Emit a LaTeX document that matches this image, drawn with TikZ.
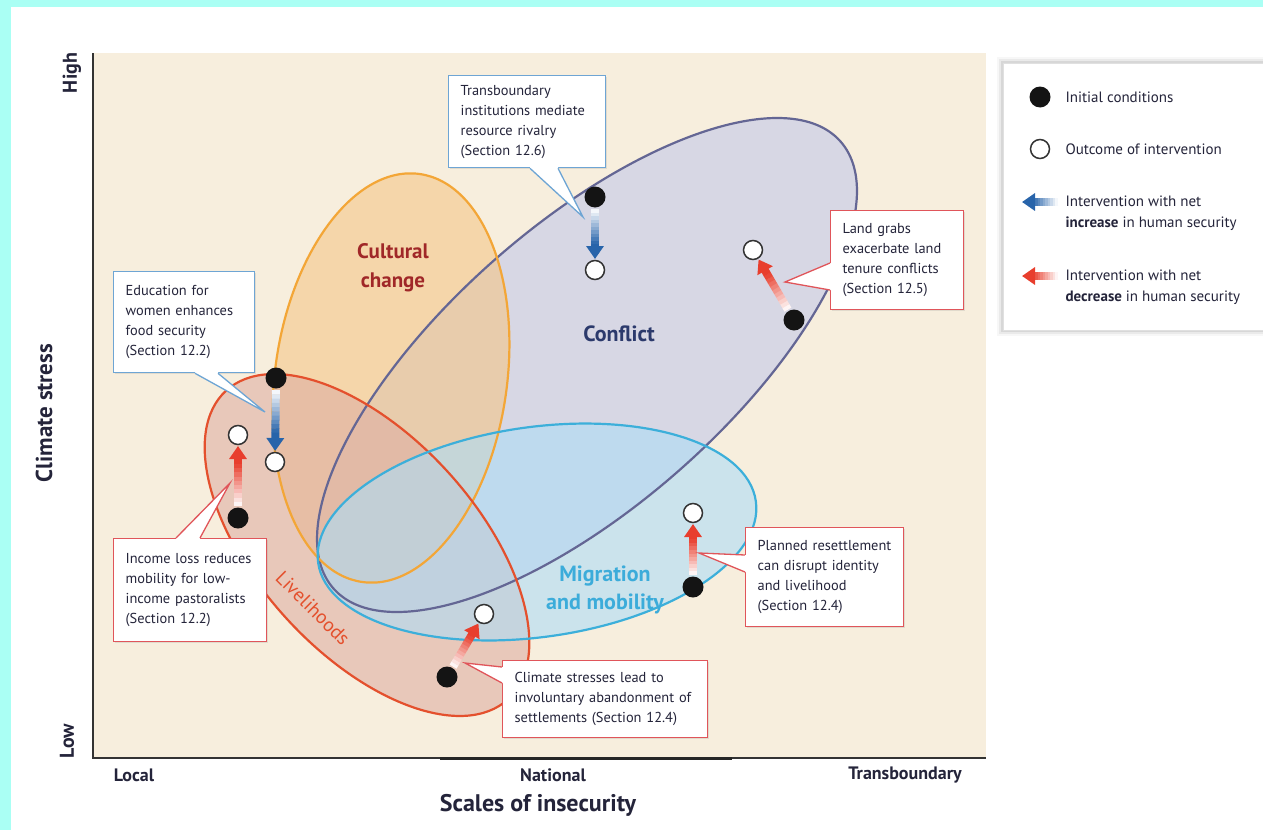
\documentclass[tikz,border=0pt]{standalone}
\usepackage{fontspec}
\setmainfont{PT Sans}
\usetikzlibrary{calc,arrows.meta,shadows}
\definecolor{framecyan}{HTML}{AAFFF4}
\definecolor{beige}{HTML}{F7EEDD}
\definecolor{textdark}{HTML}{24243A}
\definecolor{confill}{RGB}{195,201,233}
\definecolor{conline}{RGB}{100,102,148}
\definecolor{culfill}{RGB}{244,198,136}
\definecolor{culline}{RGB}{243,166,55}
\definecolor{livfill}{RGB}{222,175,163}
\definecolor{livline}{RGB}{228,80,45}
\definecolor{migfill}{RGB}{174,221,246}
\definecolor{migline}{RGB}{60,175,218}
\definecolor{culttext}{RGB}{160,40,40}
\definecolor{conftext}{RGB}{44,58,108}
\definecolor{migtext}{RGB}{60,172,218}
\definecolor{arrblue}{RGB}{40,100,170}
\definecolor{arrred}{RGB}{232,62,45}
\definecolor{calblue}{RGB}{110,165,212}
\definecolor{calred}{RGB}{224,85,90}
\newcommand{\nohyph}{\hyphenpenalty=10000\relax\exhyphenpenalty=10000\relax}
\newcommand{\gradarrow}[3]{%
  \coordinate (gaT) at ($(#1)!12pt!(#2)$);
  \coordinate (gaH) at ($(#2)!11pt!(#1)$);
  \foreach \i in {0,...,9}{%
    \pgfmathsetmacro\ta{\i*0.07}%
    \pgfmathsetmacro\tb{\ta+0.075}%
    \pgfmathtruncatemacro\pc{5+\i*10}%
    \draw[line width=8pt, #3!\pc!white] ($(gaT)!\ta!(gaH)$) -- ($(gaT)!\tb!(gaH)$);
  }
  \draw[line width=8pt, #3, -{Triangle[width=17pt,length=13pt]}] ($(gaT)!0.7!(gaH)$) -- (gaH);
}
\newcommand{\callptr}[5]{%
  \fill[white] ($#2+#5$) -- #2 -- #3 -- #4 -- ($#4+#5$) -- cycle;
  \draw[#1, line width=1.3pt, line join=miter] #2 -- #3 -- #4;
}
\tikzset{
  blackdot/.style={circle, fill=black!92, minimum size=21pt, inner sep=0pt},
  whitedot/.style={circle, fill=white, draw=black!80, line width=1.5pt, minimum size=19pt, inner sep=0pt},
  callbase/.style={rectangle, fill=white, line width=1.3pt, align=left, inner xsep=12pt, inner ysep=0pt,
    anchor=north west, text=textdark, font=\fontsize{14.4}{20}\selectfont\nohyph,
    drop shadow={opacity=0.18, shadow xshift=1.5pt, shadow yshift=-1.5pt}},
  callblue/.style={callbase, draw=calblue},
  callred/.style={callbase, draw=calred},
  axislab/.style={font=\bfseries\fontsize{18}{20}\selectfont, text=textdark},
  legtext/.style={anchor=west, align=left, text=textdark, font=\fontsize{15}{21}\selectfont},
  bigfill/.style={fill opacity=0.6},
  bigline/.style={line width=2.2pt}
}
\begin{document}
\begin{tikzpicture}[x=1pt,y=-1pt]
\useasboundingbox (0,0) rectangle (1263,830);
\fill[framecyan] (0,0) rectangle (1263,830);
\fill[white] (11,7) rectangle (1263,830);
\fill[beige] (93,53) rectangle (986,758);

% ellipse fills
\fill[confill, bigfill, rotate around={41.4:(587,365)}] (587,365) ellipse [x radius=338, y radius=140];
\fill[culfill, bigfill, rotate around={-8:(391,378)}] (391,378) ellipse [x radius=116, y radius=206];
\fill[livfill, bigfill, rotate around={-47.6:(367,545)}] (367,545) ellipse [x radius=209, y radius=109];
\fill[migfill, bigfill, rotate around={8:(537,532)}] (537,532) ellipse [x radius=221, y radius=105];
% ellipse outlines
\draw[conline, bigline, rotate around={41.4:(587,365)}] (587,365) ellipse [x radius=338, y radius=140];
\draw[culline, bigline, rotate around={-8:(391,378)}] (391,378) ellipse [x radius=116, y radius=206];
\draw[livline, bigline, rotate around={-47.6:(367,545)}] (367,545) ellipse [x radius=209, y radius=109];
\draw[migline, bigline, rotate around={8:(537,532)}] (537,532) ellipse [x radius=221, y radius=105];

% axes
\draw[line width=2pt, black!80] (93,53) -- (93,758) -- (986,758);
\draw[line width=3pt, black!85] (440,758) -- (732,758);

% region labels
\node[text=culttext, align=center, font=\bfseries\fontsize{21}{29}\selectfont] (lcult) at (393,268) {Cultural\\change};
\node[text=conftext, font=\bfseries\fontsize{22}{24}\selectfont] (lconf) at (619,334) {Conflict};
\node[text=migtext, align=center, font=\bfseries\fontsize{22}{28}\selectfont] (lmig) at (605,590) {Migration\\and mobility};
\node[text=livline, rotate=-45, font=\fontsize{19.5}{20}\selectfont] (lliv) at (313,608) {Livelihoods};

% dots
\node[blackdot] (d1) at (595,197) {};
\node[whitedot] (o1) at (595,270) {};
\node[blackdot] (d2) at (794,320) {};
\node[whitedot] (o2) at (753,250) {};
\node[blackdot] (d3) at (276,378) {};
\node[whitedot] (o3) at (275,462) {};
\node[blackdot] (d4) at (238,518) {};
\node[whitedot] (o4) at (238,435) {};
\node[blackdot] (d5) at (693,587) {};
\node[whitedot] (o5) at (693,513) {};
\node[blackdot] (d6) at (447,677) {};
\node[whitedot] (o6) at (484,614) {};

% arrows
\gradarrow{d1}{o1}{arrblue}
\gradarrow{d2}{o2}{arrred}
\gradarrow{d3}{o3}{arrblue}
\gradarrow{d4}{o4}{arrred}
\gradarrow{d5}{o5}{arrred}
\gradarrow{d6}{o6}{arrred}

% callouts
\node[callblue, text width=133pt, minimum height=92pt] (c1) at (448,75)
  {Transboundary\\institutions mediate\\resource rivalry\\(Section 12.6)};
\callptr{calblue}{($(c1.south west)+(82,0)$)}{(583,217)}{($(c1.south west)+(110,0)$)}{(0,-3)}

\node[callblue, text width=117pt, minimum height=101pt] (c2) at (113,271)
  {Education for\\women enhances\\food security\\(Section 12.2)};
\callptr{calblue}{($(c2.south west)+(82,0)$)}{(265,412)}{($(c2.south west)+(105,0)$)}{(0,-3)}

\node[callred, text width=129pt, minimum height=103pt] (c3) at (113,538)
  {Income loss reduces\\mobility for low-\\income pastoralists\\(Section 12.2)};
\callptr{calred}{($(c3.north west)+(63,0)$)}{(230,483)}{($(c3.north west)+(87,0)$)}{(0,3)}

\node[callred, text width=109pt, minimum height=99pt] (c4) at (830,210)
  {Land grabs\\exacerbate land\\tenure conflicts\\(Section 12.5)};
\callptr{calred}{($(c4.north west)+(0,53)$)}{(785,282)}{($(c4.north west)+(0,80)$)}{(3,0)}

\node[callred, text width=134pt, minimum height=99pt] (c5) at (745,527)
  {Planned resettlement\\can disrupt identity\\and livelihood\\(Section 12.4)};
\callptr{calred}{($(c5.north west)+(0,28)$)}{(699,553)}{($(c5.north west)+(0,45)$)}{(3,0)}

\node[callred, text width=181pt, minimum height=77pt] (c6) at (502,660)
  {Climate stresses lead to\\involuntary abandonment of\\settlements (Section 12.4)};
\callptr{calred}{($(c6.north west)+(0,7)$)}{(465,663)}{($(c6.north west)+(0,23)$)}{(3,0)}

% axis labels
\node[font=\bfseries\fontsize{20}{22}\selectfont, text=textdark, rotate=90] (hi) at (72,73) {High};
\node[font=\bfseries\fontsize{20}{22}\selectfont, text=textdark, rotate=90] (lo) at (67,741) {Low};
\node[font=\bfseries\fontsize{23}{26}\selectfont, text=textdark, rotate=90] (ylab) at (44,413) {Climate stress};
\node[axislab] (xl) at (134,775) {Local};
\node[axislab] (xn) at (553,775) {National};
\node[axislab] (xt) at (905,775) {Transboundary};
\node[font=\bfseries\fontsize{24}{26}\selectfont, text=textdark] (xlab) at (538,805) {Scales of insecurity};

% legend
\foreach \k/\op in {6/0.03,4/0.05,2/0.08}{
  \fill[black, opacity=\op] (1003-\k,63-\k) rectangle (1300,330+\k);
}
\node[rectangle, fill=white, draw=black!12, line width=0.8pt, anchor=north west, minimum width=300pt, minimum height=267pt] (leg) at (1003,63) {};
\node[blackdot] (lg1) at (1040,97) {};
\node[legtext] (lt1) at (1062,97) {Initial conditions};
\node[whitedot] (lg2) at (1040,149) {};
\node[legtext] (lt2) at (1062,149) {Outcome of intervention};
\coordinate (lb1) at (1070,202);
\coordinate (lb2) at (1011,202);
\gradarrow{lb1}{lb2}{arrblue}
\node[legtext] (lt3) at (1062,213) {Intervention with net\\\textbf{increase} in human security};
\coordinate (lr1) at (1070,276);
\coordinate (lr2) at (1011,276);
\gradarrow{lr1}{lr2}{arrred}
\node[legtext] (lt4) at (1062,287) {Intervention with net\\\textbf{decrease} in human security};
\end{tikzpicture}
\end{document}
